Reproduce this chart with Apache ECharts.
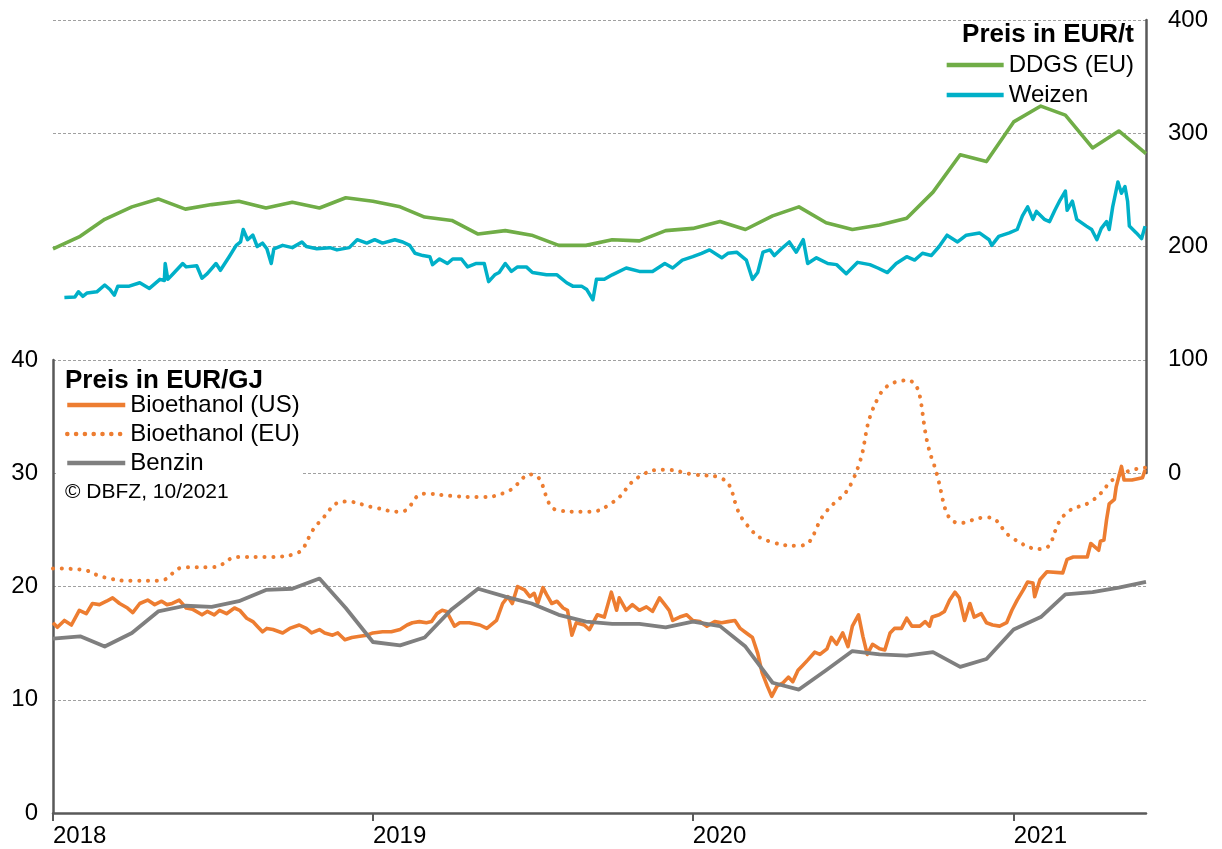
<!DOCTYPE html>
<html>
<head>
<meta charset="utf-8">
<title>Preise Bioethanol, Benzin, DDGS und Weizen</title>
<script src="https://cdn.jsdelivr.net/npm/echarts@6/dist/echarts.min.js"></script>
<style>
  html, body { margin: 0; padding: 0; background: #fff; }
  #chart { width: 1222px; height: 849px; }
</style>
</head>
<body>
<div id="chart"></div>
<script>
// ---- Data -------------------------------------------------------------
// Monthly series start in January 2018 (one value per month start).
const MONTHLY_START = [2018, 0];

// DDGS (EU), EUR/t, monthly
const ddgsValues = [
  198, 209, 224, 235, 242, 233, 237, 240, 234, 239, 234, 243,
  240, 235, 226, 223, 211, 214, 210, 201, 201, 206, 205, 214,
  216, 222, 215, 227, 235, 221, 215, 219, 225, 248, 281, 275,
  310, 324, 316, 287, 302, 282
];

// Benzin, EUR/GJ, monthly
const benzinValues = [
  15.4, 15.6, 14.7, 15.9, 17.8, 18.3, 18.2, 18.7, 19.7, 19.8, 20.7, 18.1,
  15.1, 14.8, 15.5, 18.0, 19.8, 19.1, 18.5, 17.5, 16.9, 16.7, 16.7, 16.4,
  16.9, 16.5, 14.7, 11.5, 10.9, 12.6, 14.3, 14.0, 13.9, 14.2, 12.9, 13.6,
  16.2, 17.3, 19.3, 19.5, 19.9, 20.4
];

// Bioethanol (EU), EUR/GJ, monthly
const ethanolEuValues = [
  21.6, 21.5, 20.8, 20.5, 20.5, 21.7, 21.7, 22.6, 22.6, 22.8, 25.7, 27.5,
  27.0, 26.6, 28.2, 28.0, 27.9, 28.3, 29.9, 26.7, 26.6, 27.4, 29.7, 30.3,
  29.9, 29.6, 25.6, 23.9, 23.6, 26.6, 29.3, 36.9, 38.2, 31.0, 25.6, 26.1,
  24.2, 23.3, 26.4, 27.6, 29.8, 30.5
];

// Weizen, EUR/t, market quotes
const weizen = [
  ['2018-01-14',155],['2018-01-26',155.5],['2018-01-30',160],['2018-02-04',156],['2018-02-09',159],
  ['2018-02-20',160],['2018-03-01',166],['2018-03-07',162],['2018-03-12',157],['2018-03-16',165],
  ['2018-03-29',165],['2018-04-10',168],['2018-04-21',163],['2018-05-03',171],['2018-05-08',170],
  ['2018-05-09',185],['2018-05-12',171],['2018-05-17',175],['2018-05-29',185],['2018-06-02',182],
  ['2018-06-14',183],['2018-06-20',172],['2018-06-26',176],['2018-07-06',185],['2018-07-11',179],
  ['2018-07-21',191],['2018-07-29',201],['2018-08-03',204],['2018-08-06',215],['2018-08-11',206],
  ['2018-08-17',210],['2018-08-22',200],['2018-08-28',203],['2018-09-02',198],['2018-09-07',185],
  ['2018-09-10',198],['2018-09-20',201],['2018-10-01',199],['2018-10-12',204],['2018-10-17',200],
  ['2018-10-29',198],['2018-11-13',199],['2018-11-21',197],['2018-12-05',199],['2018-12-14',206],
  ['2018-12-25',203],['2019-01-03',206],['2019-01-12',203],['2019-01-26',206],['2019-02-04',204],
  ['2019-02-12',201],['2019-02-18',194],['2019-02-27',192],['2019-03-07',191],['2019-03-10',184],
  ['2019-03-18',189],['2019-03-27',185],['2019-04-02',189],['2019-04-12',189],['2019-04-19',182],
  ['2019-04-29',185],['2019-05-08',185],['2019-05-13',169],['2019-05-20',175],['2019-05-25',177],
  ['2019-06-01',185],['2019-06-08',178],['2019-06-15',182],['2019-06-25',182],['2019-07-02',177],
  ['2019-07-18',175],['2019-07-30',175],['2019-08-10',168],['2019-08-17',165],['2019-08-27',165],
  ['2019-09-02',162],['2019-09-09',153],['2019-09-13',171],['2019-09-22',171],['2019-10-01',175],
  ['2019-10-17',181],['2019-11-01',178],['2019-11-16',178],['2019-11-30',185],['2019-12-09',181],
  ['2019-12-20',188],['2020-01-01',191],['2020-01-11',194],['2020-01-20',197],['2020-02-03',190],
  ['2020-02-10',194],['2020-02-20',195],['2020-03-02',188],['2020-03-09',171],['2020-03-15',177],
  ['2020-03-21',195],['2020-03-29',197],['2020-04-03',192],['2020-04-11',198],['2020-04-20',204],
  ['2020-04-28',195],['2020-05-06',206],['2020-05-11',185],['2020-05-21',190],['2020-06-03',185],
  ['2020-06-13',184],['2020-06-24',176],['2020-07-07',186],['2020-07-21',184],['2020-07-30',181],
  ['2020-08-10',177],['2020-08-20',185],['2020-09-01',191],['2020-09-10',188],['2020-09-19',194],
  ['2020-09-29',192],['2020-10-08',200],['2020-10-17',210],['2020-10-29',204],['2020-11-08',210],
  ['2020-11-23',212],['2020-12-04',206],['2020-12-07',201],['2020-12-15',209],['2020-12-27',212],
  ['2021-01-05',215],['2021-01-11',227],['2021-01-17',235],['2021-01-23',224],['2021-01-27',231],
  ['2021-02-05',224],['2021-02-11',222],['2021-02-17',232],['2021-02-23',241],['2021-03-01',249],
  ['2021-03-03',232],['2021-03-09',240],['2021-03-14',224],['2021-03-25',218],['2021-03-31',215],
  ['2021-04-06',206],['2021-04-11',216],['2021-04-17',222],['2021-04-20',215],['2021-04-24',235],
  ['2021-04-30',257],['2021-05-04',247],['2021-05-08',253],['2021-05-11',240],['2021-05-13',218],
  ['2021-05-21',212],['2021-05-27',207],['2021-05-31',218]
];

// Bioethanol (US), EUR/GJ, market quotes
const ethanolUs = [
  ['2018-01-01',16.8],['2018-01-06',16.4],['2018-01-14',17.0],['2018-01-22',16.6],['2018-01-31',17.9],
  ['2018-02-08',17.6],['2018-02-15',18.5],['2018-02-23',18.4],['2018-03-03',18.7],['2018-03-10',19.0],
  ['2018-03-18',18.5],['2018-03-27',18.1],['2018-04-02',17.7],['2018-04-10',18.5],['2018-04-19',18.8],
  ['2018-04-27',18.4],['2018-05-05',18.7],['2018-05-11',18.4],['2018-05-17',18.5],['2018-05-25',18.8],
  ['2018-06-02',18.1],['2018-06-09',18.0],['2018-06-20',17.5],['2018-06-26',17.8],['2018-07-04',17.5],
  ['2018-07-10',17.9],['2018-07-18',17.6],['2018-07-27',18.1],['2018-08-02',17.9],['2018-08-10',17.2],
  ['2018-08-17',16.9],['2018-08-22',16.5],['2018-08-28',16.0],['2018-09-02',16.3],['2018-09-09',16.2],
  ['2018-09-20',15.9],['2018-09-28',16.3],['2018-10-09',16.6],['2018-10-17',16.3],['2018-10-23',15.9],
  ['2018-11-01',16.2],['2018-11-07',15.9],['2018-11-16',15.7],['2018-11-22',15.9],['2018-11-30',15.3],
  ['2018-12-08',15.5],['2018-12-17',15.6],['2018-12-25',15.7],['2019-01-01',15.9],['2019-01-12',16.0],
  ['2019-01-22',16.0],['2019-02-01',16.2],['2019-02-09',16.6],['2019-02-15',16.8],['2019-02-23',16.9],
  ['2019-03-03',16.8],['2019-03-09',16.9],['2019-03-15',17.6],['2019-03-21',17.9],['2019-03-26',17.8],
  ['2019-04-04',16.5],['2019-04-10',16.8],['2019-04-21',16.8],['2019-05-03',16.6],['2019-05-11',16.3],
  ['2019-05-22',17.0],['2019-05-29',18.5],['2019-06-04',19.1],['2019-06-09',18.5],['2019-06-15',20.0],
  ['2019-06-23',19.7],['2019-06-29',19.1],['2019-07-04',19.4],['2019-07-08',18.5],['2019-07-14',19.9],
  ['2019-07-18',19.3],['2019-07-24',18.5],['2019-07-30',18.7],['2019-08-06',18.1],['2019-08-11',17.9],
  ['2019-08-16',15.7],['2019-08-21',16.8],['2019-08-30',16.6],['2019-09-05',16.2],['2019-09-14',17.5],
  ['2019-09-22',17.3],['2019-09-26',18.4],['2019-09-30',19.5],['2019-10-06',17.9],['2019-10-09',19.0],
  ['2019-10-17',17.9],['2019-10-24',18.4],['2019-11-01',17.9],['2019-11-09',18.2],['2019-11-16',17.8],
  ['2019-11-24',19.0],['2019-11-30',18.4],['2019-12-05',17.9],['2019-12-09',17.0],['2019-12-17',17.3],
  ['2019-12-25',17.5],['2020-01-01',17.0],['2020-01-09',16.9],['2020-01-17',16.5],['2020-01-26',16.9],
  ['2020-02-03',16.8],['2020-02-10',16.9],['2020-02-18',17.0],['2020-02-24',16.3],['2020-03-02',15.9],
  ['2020-03-09',15.5],['2020-03-15',14.1],['2020-03-20',12.4],['2020-03-26',11.2],['2020-03-31',10.3],
  ['2020-04-06',11.2],['2020-04-13',11.5],['2020-04-19',12.0],['2020-04-24',11.6],['2020-04-30',12.6],
  ['2020-05-05',13.0],['2020-05-11',13.5],['2020-05-19',14.2],['2020-05-25',14.0],['2020-06-02',14.5],
  ['2020-06-07',15.5],['2020-06-13',14.9],['2020-06-20',15.9],['2020-06-26',14.7],['2020-07-01',16.5],
  ['2020-07-08',17.5],['2020-07-13',15.6],['2020-07-18',14.0],['2020-07-24',14.9],['2020-08-01',14.5],
  ['2020-08-07',14.4],['2020-08-13',15.9],['2020-08-18',16.3],['2020-08-26',16.3],['2020-09-01',17.2],
  ['2020-09-07',16.5],['2020-09-16',16.5],['2020-09-22',16.9],['2020-09-27',16.5],['2020-09-30',17.3],
  ['2020-10-08',17.5],['2020-10-14',17.8],['2020-10-20',18.8],['2020-10-26',19.5],['2020-10-31',19.0],
  ['2020-11-06',17.0],['2020-11-12',18.5],['2020-11-17',17.3],['2020-11-25',17.6],['2020-12-01',16.8],
  ['2020-12-08',16.6],['2020-12-16',16.5],['2020-12-24',16.8],['2020-12-30',17.9],['2021-01-05',18.8],
  ['2021-01-12',19.7],['2021-01-17',20.4],['2021-01-23',20.3],['2021-01-25',19.1],['2021-01-31',20.6],
  ['2021-02-08',21.3],['2021-02-26',21.2],['2021-03-03',22.4],['2021-03-10',22.6],['2021-03-26',22.6],
  ['2021-03-30',23.8],['2021-04-08',23.2],['2021-04-10',24.0],['2021-04-14',24.1],['2021-04-17',25.9],
  ['2021-04-20',27.3],['2021-04-26',27.7],['2021-04-28',28.8],['2021-05-04',30.6],['2021-05-07',29.4],
  ['2021-05-16',29.4],['2021-05-28',29.6],['2021-05-31',30.3]
];

// Axis ranges and ticks
const xRange = ['2018-01-01', '2021-06-01'];
const rightTicks = { min: 0, max: 400, interval: 100 };  // EUR/t
const leftTicks = { min: 0, max: 40, interval: 10 };     // EUR/GJ

// ---- Helpers ----------------------------------------------------------
function toTime(s) {
  const [y, m, d] = s.split('-').map(Number);
  return new Date(y, m - 1, d).getTime();
}
function monthly(values) {
  return values.map((v, i) => [new Date(MONTHLY_START[0], MONTHLY_START[1] + i, 1).getTime(), v]);
}
function dated(rows) {
  return rows.map(([d, v]) => [toTime(d), v]);
}

// ---- Styling ----------------------------------------------------------
const FONT = '"Liberation Sans", Arial, Helvetica, sans-serif';
const AXIS_COLOR = '#595959';
const GRID_LINE = { show: true, lineStyle: { color: '#a0a0a0', width: 1.2, type: [3, 2] } };
const DAY = 24 * 3600 * 1000;

// Legend entries: plain line samples, no marker
const LEGEND_COMMON = {
  orient: 'vertical', align: 'left', padding: 0,
  itemHeight: 14,
  itemStyle: { opacity: 0 },
  lineStyle: { width: 4.5 },
  textStyle: { fontSize: 24, color: '#000', fontFamily: FONT },
  selectedMode: false
};

const chart = echarts.init(document.getElementById('chart'), null, { renderer: 'canvas' });

const option = {
  animation: false,
  backgroundColor: '#ffffff',
  textStyle: { fontFamily: FONT },
  grid: [
    { left: 53, width: 1093, top: 20, height: 453, containLabel: false },
    { left: 53, width: 1093, top: 360, height: 453, containLabel: false }
  ],
  xAxis: [
    { gridIndex: 0, type: 'time', min: toTime(xRange[0]), max: toTime(xRange[1]), show: false },
    {
      gridIndex: 1, type: 'time',
      min: toTime(xRange[0]), max: toTime(xRange[1]),
      minInterval: 365 * DAY,
      axisLine: { show: true, onZero: false, lineStyle: { color: AXIS_COLOR, width: 2.5 } },
      axisTick: { show: true, length: 8, lineStyle: { color: AXIS_COLOR, width: 2 } },
      axisLabel: {
        fontSize: 24, color: '#000', fontFamily: FONT, margin: 11, align: 'left',
        formatter: (v) => String(new Date(v).getFullYear())
      },
      splitLine: { show: false }
    }
  ],
  yAxis: [
    {
      gridIndex: 0, type: 'value', position: 'right',
      min: rightTicks.min, max: rightTicks.max, interval: rightTicks.interval,
      axisLine: { show: true, lineStyle: { color: AXIS_COLOR, width: 2.5 } },
      axisTick: { show: false },
      axisLabel: { fontSize: 24, color: '#000', fontFamily: FONT, margin: 22 },
      splitLine: GRID_LINE
    },
    {
      gridIndex: 1, type: 'value', position: 'left',
      min: leftTicks.min, max: leftTicks.max, interval: leftTicks.interval,
      axisLine: { show: true, lineStyle: { color: AXIS_COLOR, width: 2.5 } },
      axisTick: { show: false },
      axisLabel: { fontSize: 24, color: '#000', fontFamily: FONT, margin: 15 },
      splitLine: GRID_LINE
    }
  ],
  legend: [
    Object.assign({}, LEGEND_COMMON, {
      data: ['DDGS (EU)', 'Weizen'],
      right: 88, top: 53,
      itemWidth: 57, itemGap: 6
    }),
    Object.assign({}, LEGEND_COMMON, {
      data: ['Bioethanol (US)', 'Bioethanol (EU)', 'Benzin'],
      left: 65, top: 393,
      itemWidth: 58, itemGap: 5
    })
  ],
  graphic: [
    {
      type: 'rect', z: 1, silent: true,
      shape: { x: 58, y: 366, width: 243, height: 138 },
      style: { fill: '#ffffff' }
    },
    {
      type: 'text', z: 5, silent: true,
      style: {
        x: 1134, y: 35, text: 'Preis in EUR/t',
        font: 'bold 26px ' + FONT, fill: '#000',
        textAlign: 'right', align: 'right', textVerticalAlign: 'middle', verticalAlign: 'middle'
      }
    },
    {
      type: 'text', z: 5, silent: true,
      style: {
        x: 65, y: 381, text: 'Preis in EUR/GJ',
        font: 'bold 26px ' + FONT, fill: '#000',
        textAlign: 'left', align: 'left', textVerticalAlign: 'middle', verticalAlign: 'middle'
      }
    },
    {
      type: 'text', z: 5, silent: true,
      style: {
        x: 65, y: 492, text: '© DBFZ, 10/2021',
        font: '21px ' + FONT, fill: '#000',
        textAlign: 'left', align: 'left', textVerticalAlign: 'middle', verticalAlign: 'middle'
      }
    }
  ],
  series: [
    {
      name: 'DDGS (EU)', type: 'line', xAxisIndex: 0, yAxisIndex: 0,
      data: monthly(ddgsValues), symbol: 'none',
      itemStyle: { color: '#70AD47' },
      lineStyle: { color: '#70AD47', width: 3.6, join: 'round' }
    },
    {
      name: 'Weizen', type: 'line', xAxisIndex: 0, yAxisIndex: 0,
      data: dated(weizen), symbol: 'none',
      itemStyle: { color: '#00B0C8' },
      lineStyle: { color: '#00B0C8', width: 3.5, join: 'round' }
    },
    {
      name: 'Bioethanol (US)', type: 'line', xAxisIndex: 1, yAxisIndex: 1,
      data: dated(ethanolUs), symbol: 'none',
      itemStyle: { color: '#ED7D31' },
      lineStyle: { color: '#ED7D31', width: 3.6, join: 'round' }
    },
    {
      name: 'Bioethanol (EU)', type: 'line', xAxisIndex: 1, yAxisIndex: 1,
      data: monthly(ethanolEuValues), symbol: 'none', smooth: true,
      itemStyle: { color: '#ED7D31' },
      lineStyle: { color: '#ED7D31', width: 4, type: [0.1, 8.7], cap: 'round' }
    },
    {
      name: 'Benzin', type: 'line', xAxisIndex: 1, yAxisIndex: 1,
      data: monthly(benzinValues), symbol: 'none',
      itemStyle: { color: '#7F7F7F' },
      lineStyle: { color: '#7F7F7F', width: 3.8, join: 'round' }
    }
  ]
};

chart.setOption(option);
</script>
</body>
</html>
